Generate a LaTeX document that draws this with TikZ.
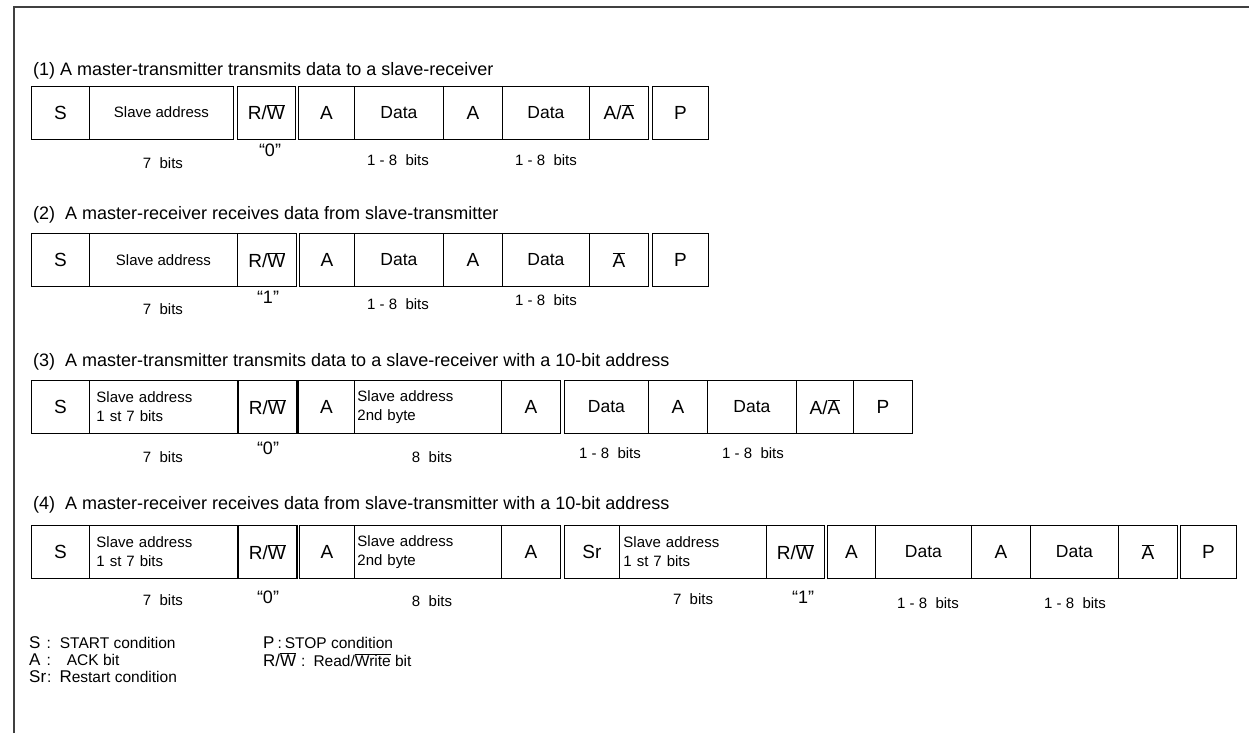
\documentclass[tikz,border=0pt]{standalone}
\usepackage{fontspec}
\setmainfont{Liberation Sans}
\usepackage{tikz}
\usetikzlibrary{positioning}
\newcommand{\ovl}[1]{$\overline{\mbox{#1}}$}
\tikzset{
  frbox/.style={draw=black, line width=0.9pt, minimum height=53pt, inner sep=0pt,
    anchor=west, font=\fontsize{19}{21}\selectfont},
  frdata/.style={frbox, font=\fontsize{17.5}{20}\selectfont},
  frsmall/.style={frbox, font=\fontsize{15}{18}\selectfont},
  frtwo/.style={frbox, align=left, font=\fontsize{15}{19}\selectfont},
  frthick/.style={line width=1.8pt},
  frcap/.style={anchor=west, inner sep=0pt, font=\fontsize{18}{20}\selectfont},
  frbits/.style={inner sep=0pt, font=\fontsize{15}{17}\selectfont},
  frval/.style={inner sep=0pt, font=\fontsize{18}{20}\selectfont},
  frkey/.style={anchor=west, inner sep=0pt, font=\fontsize{15.5}{17}\selectfont}
}
\newcommand{\keysym}[1]{{\fontsize{17}{17}\selectfont #1}}

\begin{document}
\begin{tikzpicture}[x=1pt, y=-1pt]
  \useasboundingbox (0,0) rectangle (1249,733);
  \draw[line width=1.6pt, black!75] (14,733) -- (14,7) -- (1249,7);

  % (1)
  \node[frcap] (c1) at (33,71) {(1) A master-transmitter transmits data to a slave-receiver};
  \node[frbox, minimum width=58pt] (r1s) at (31,112.5) {S};
  \node[frsmall, minimum width=144pt] (r1sa) at (89,112.5) {Slave address};
  \node[frbox, minimum width=58pt] (r1rw) at (237,112.5) {R/\ovl{W}};
  \node[frbox, minimum width=56pt] (r1a1) at (298,112.5) {A};
  \node[frdata, minimum width=89pt] (r1d1) at (354,112.5) {Data};
  \node[frbox, minimum width=59pt] (r1a2) at (443,112.5) {A};
  \node[frdata, minimum width=87pt] (r1d2) at (502,112.5) {Data};
  \node[frbox, minimum width=59pt] (r1ak) at (589,112.5) {A/\ovl{A}};
  \node[frbox, minimum width=56pt] (r1p) at (652,112.5) {P};
  \node[frbits] (b1a) at (163,163) {7\ \ bits};
  \node[frval] (v1a) at (270,150) {“0”};
  \node[frbits] (b1b) at (398,160) {1 - 8\ \ bits};
  \node[frbits] (b1c) at (546,160) {1 - 8\ \ bits};

  % (2)
  \node[frcap] (c2) at (33,215) {(2)\ \ A master-receiver receives data from slave-transmitter};
  \node[frbox, minimum width=58pt] (r2s) at (31,260) {S};
  \node[frsmall, minimum width=148pt] (r2sa) at (89,260) {Slave address};
  \node[frbox, minimum width=59pt] (r2rw) at (237,260) {R/\ovl{W}};
  \node[frbox, minimum width=55pt] (r2a1) at (299,260) {A};
  \node[frdata, minimum width=89pt] (r2d1) at (354,260) {Data};
  \node[frbox, minimum width=59pt] (r2a2) at (443,260) {A};
  \node[frdata, minimum width=87pt] (r2d2) at (502,260) {Data};
  \node[frbox, minimum width=59pt] (r2ak) at (589,260) {\ovl{A}};
  \node[frbox, minimum width=56pt] (r2p) at (652,260) {P};
  \node[frbits] (b2a) at (163,309) {7\ \ bits};
  \node[frval] (v2a) at (268,297) {“1”};
  \node[frbits] (b2b) at (398,304) {1 - 8\ \ bits};
  \node[frbits] (b2c) at (546,300) {1 - 8\ \ bits};

  % (3)
  \node[frcap] (c3) at (33,362) {(3)\ \ A master-transmitter transmits data to a slave-receiver with a 10-bit address};
  \node[frbox, minimum width=58pt] (r3s) at (31,407) {S};
  \node[frtwo, text width=134pt, inner xsep=7pt] (r3sa) at (89,407) {Slave address\\1 st 7 bits};
  \node[frbox, frthick, minimum width=59pt] (r3rw) at (237,407) {R/\ovl{W}};
  \node[frbox, minimum width=56pt] (r3a1) at (298,407) {A};
  \node[frtwo, text width=141pt, inner xsep=3pt] (r3sb) at (354,407) {Slave address\\2nd byte};
  \node[frbox, minimum width=59pt] (r3a2) at (501,407) {A};
  \node[frdata, minimum width=84pt] (r3d1) at (564,407) {Data};
  \node[frbox, minimum width=59pt] (r3a3) at (648,407) {A};
  \node[frdata, minimum width=89pt] (r3d2) at (707,407) {Data};
  \node[frbox, minimum width=57pt] (r3ak) at (796,407) {A/\ovl{A}};
  \node[frbox, minimum width=59pt] (r3p) at (853,407) {P};
  \node[frbits] (b3a) at (163,457) {7\ \ bits};
  \node[frval] (v3a) at (268,448) {“0”};
  \node[frbits] (b3b) at (432,457) {8\ \ bits};
  \node[frbits] (b3c) at (610,453) {1 - 8\ \ bits};
  \node[frbits] (b3d) at (753,453) {1 - 8\ \ bits};

  % (4)
  \node[frcap] (c4) at (33,505) {(4)\ \ A master-receiver receives data from slave-transmitter with a 10-bit address};
  \node[frbox, minimum width=58pt] (r4s) at (31,552) {S};
  \node[frtwo, text width=134pt, inner xsep=7pt] (r4sa) at (89,552) {Slave address\\1 st 7 bits};
  \node[frbox, frthick, minimum width=59pt] (r4rw) at (237,552) {R/\ovl{W}};
  \node[frbox, minimum width=55pt] (r4a1) at (299,552) {A};
  \node[frtwo, text width=141pt, inner xsep=3pt] (r4sb) at (354,552) {Slave address\\2nd byte};
  \node[frbox, minimum width=59pt] (r4a2) at (501,552) {A};
  \node[frbox, minimum width=55pt] (r4sr) at (564,552) {Sr};
  \node[frtwo, text width=139pt, inner xsep=4pt] (r4sc) at (619,552) {Slave address\\1 st 7 bits};
  \node[frbox, minimum width=58pt] (r4rx) at (766,552) {R/\ovl{W}};
  \node[frbox, minimum width=48pt] (r4a3) at (827,552) {A};
  \node[frdata, minimum width=96pt] (r4d1) at (875,552) {Data};
  \node[frbox, minimum width=59pt] (r4a4) at (971,552) {A};
  \node[frdata, minimum width=88pt] (r4d2) at (1030,552) {Data};
  \node[frbox, minimum width=59pt] (r4ak) at (1118,552) {\ovl{A}};
  \node[frbox, minimum width=56pt] (r4p) at (1180,552) {P};
  \node[frbits] (b4a) at (163,600) {7\ \ bits};
  \node[frval] (v4a) at (268,597) {“0”};
  \node[frbits] (b4b) at (432,601) {8\ \ bits};
  \node[frbits] (b4c) at (693,599) {7\ \ bits};
  \node[frval] (v4b) at (803,597) {“1”};
  \node[frbits] (b4d) at (928,603) {1 - 8\ \ bits};
  \node[frbits] (b4e) at (1075,603) {1 - 8\ \ bits};

  % key
  \node[frkey] (kS) at (29,643) {\keysym{S}\hspace{6pt}:\hspace{9pt}START condition};
  \node[frkey] (kA) at (29,660) {\keysym{A}\hspace{6pt}:\hspace{16pt}ACK bit};
  \node[frkey] (kSr) at (29,677) {\keysym{Sr}\hspace{1pt}:\hspace{8pt}\keysym{R}estart condition};
  \node[frkey] (kP) at (263,643) {\keysym{P}\hspace{3pt}:\hspace{3pt}STOP condition};
  \node[frkey] (kRW) at (263,660) {\keysym{R/\ovl{W}}\hspace{5pt}:\hspace{8pt}Read/\ovl{Write} bit};
\end{tikzpicture}
\end{document}
